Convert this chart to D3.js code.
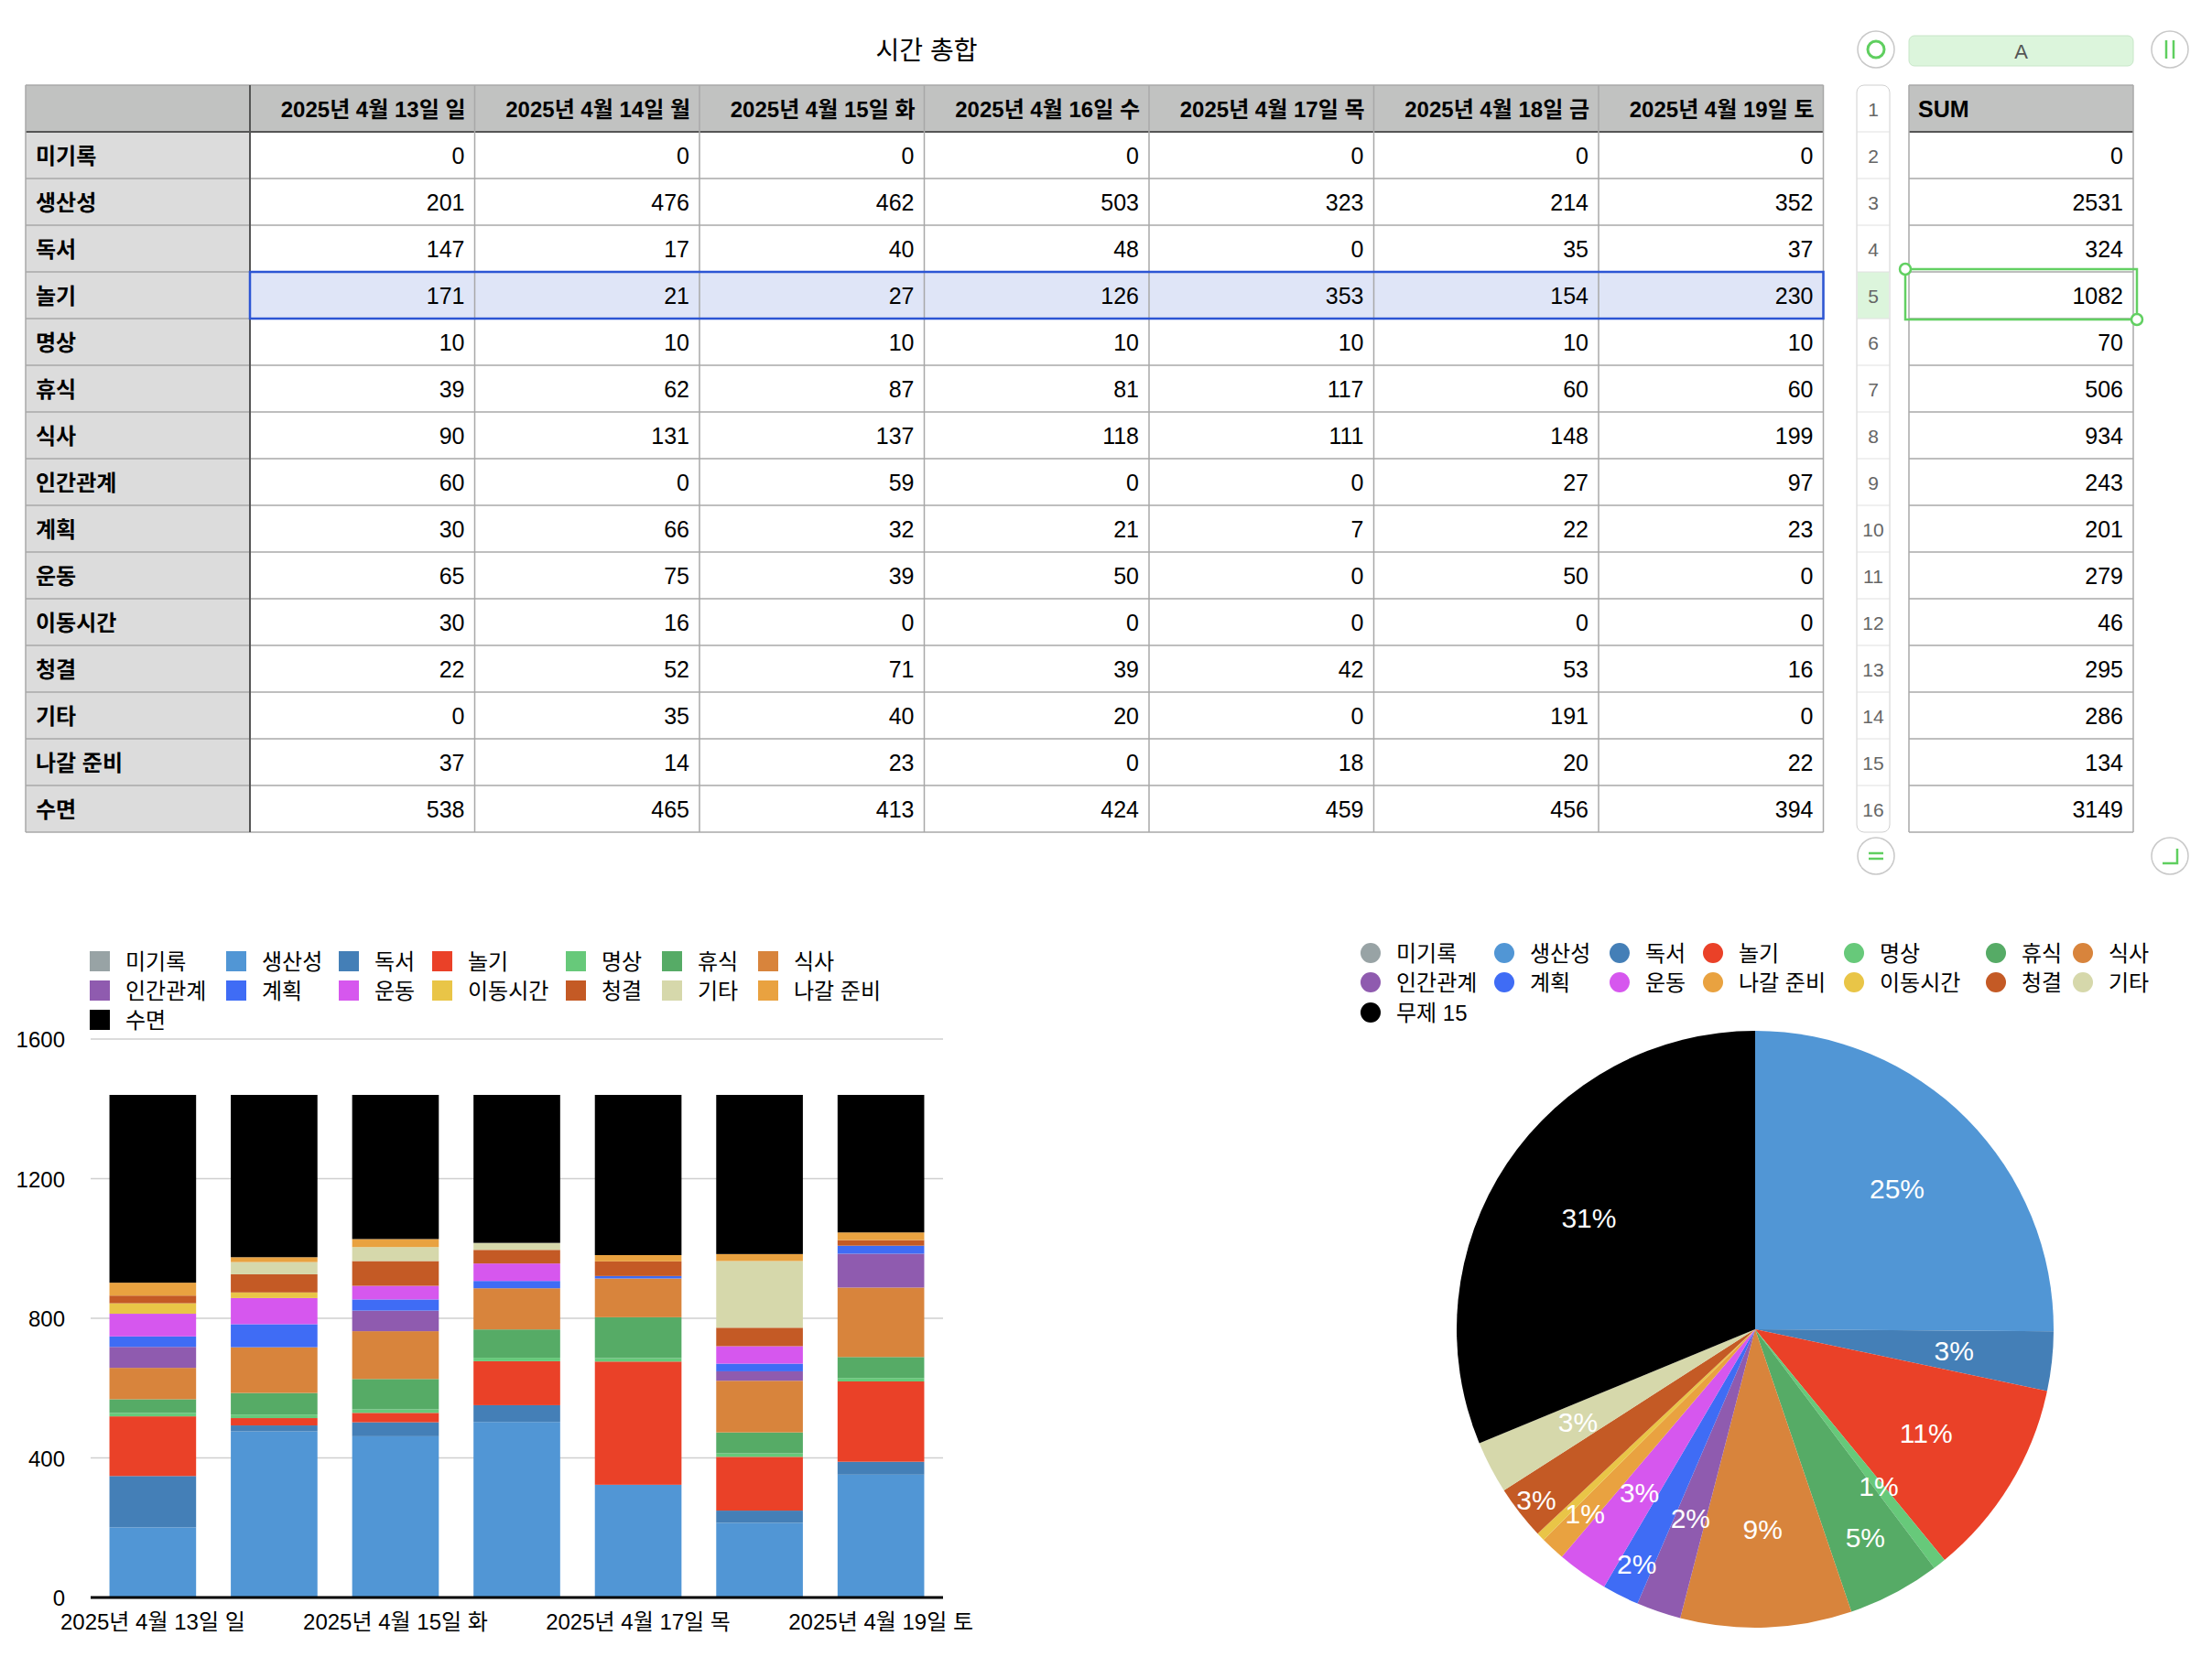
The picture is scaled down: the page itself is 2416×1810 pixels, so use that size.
<!DOCTYPE html>
<html><head><meta charset="utf-8">
<script src="https://cdn.jsdelivr.net/npm/d3@7"></script>
<style>
body{margin:0;background:#fff;}
text{font-family:"Liberation Sans","Noto Sans CJK KR",sans-serif;}
</style></head>
<body><svg id="c" width="2416" height="1810"></svg>
<script>
const dates = ["2025년 4월 13일 일","2025년 4월 14일 월","2025년 4월 15일 화","2025년 4월 16일 수","2025년 4월 17일 목","2025년 4월 18일 금","2025년 4월 19일 토"];
const categories = ["미기록","생산성","독서","놀기","명상","휴식","식사","인간관계","계획","운동","이동시간","청결","기타","나갈 준비","수면"];
const values = [
  [0,0,0,0,0,0,0],
  [201,476,462,503,323,214,352],
  [147,17,40,48,0,35,37],
  [171,21,27,126,353,154,230],
  [10,10,10,10,10,10,10],
  [39,62,87,81,117,60,60],
  [90,131,137,118,111,148,199],
  [60,0,59,0,0,27,97],
  [30,66,32,21,7,22,23],
  [65,75,39,50,0,50,0],
  [30,16,0,0,0,0,0],
  [22,52,71,39,42,53,16],
  [0,35,40,20,0,191,0],
  [37,14,23,0,18,20,22],
  [538,465,413,424,459,456,394]
];
const sums = [0,2531,324,1082,70,506,934,243,201,279,46,295,286,134,3149];
const colors = ["#98a3a5","#5196d5","#447fb7","#ea4128","#67c97a","#56ab66","#d8843c","#8f5baf","#3f6cf5","#d657ee","#e9c547","#c45a25","#d6d8ab","#e9a240","#000000"];
const pieOrder = [0,1,2,3,4,5,6,7,8,9,13,10,11,12,14];
const pieNames = categories.slice(0,14).concat(["무제 15"]);
// label distance from centre, as a share of the radius, per pie slice
const pieLabelR = [0.67,0.67,0.67,0.67,0.67,0.79,0.67,0.67,0.88,0.67,0.84,0.67,0.93,0.67,0.67];
const yTicks = [0,400,800,1200,1600];

const svg = d3.select("#c");

// ---- table ----
const tx = 28, ty = 93, rowH = 51, firstW = 245, colW = 245.5;
const tbl = svg.append("g");
tbl.append("text").attr("x",1012).attr("y",65).attr("text-anchor","middle")
  .attr("font-size",28).text("시간 총합");
tbl.append("rect").attr("x",tx).attr("y",ty).attr("width",firstW+colW*7).attr("height",rowH)
  .attr("fill","#c1c2c1");
tbl.append("rect").attr("x",tx).attr("y",ty+rowH).attr("width",firstW).attr("height",rowH*15)
  .attr("fill","#dcdcdc");
tbl.append("rect").attr("x",tx+firstW).attr("y",ty+rowH*4).attr("width",colW*7).attr("height",rowH)
  .attr("fill","#dfe5f7");
dates.forEach((d,i)=>{
  tbl.append("text").attr("x",tx+firstW+colW*(i+1)-10).attr("y",ty+rowH/2+9)
    .attr("text-anchor","end").attr("font-size",24).attr("font-weight","bold").text(d);
});
categories.forEach((c,r)=>{
  const y = ty+rowH*(r+1);
  tbl.append("text").attr("x",tx+11).attr("y",y+rowH/2+9).attr("font-size",24)
    .attr("font-weight","bold").text(c);
  values[r].forEach((v,i)=>{
    tbl.append("text").attr("x",tx+firstW+colW*(i+1)-11).attr("y",y+rowH/2+9)
      .attr("text-anchor","end").attr("font-size",25).text(v);
  });
});
for(let r=0;r<=16;r++){
  tbl.append("line").attr("x1",tx).attr("x2",tx+firstW+colW*7).attr("y1",ty+rowH*r).attr("y2",ty+rowH*r)
    .attr("stroke", r===1 ? "#555" : "#a8a8a8").attr("stroke-width", r===1?2:1.5);
}
for(let i=0;i<=8;i++){
  const x = i===0 ? tx : tx+firstW+colW*(i-1);
  tbl.append("line").attr("x1",x).attr("x2",x).attr("y1",ty).attr("y2",ty+rowH*16)
    .attr("stroke", i===1 ? "#555" : "#a8a8a8").attr("stroke-width", i===1?2:1.5);
}
tbl.append("rect").attr("x",tx+firstW).attr("y",ty+rowH*4).attr("width",colW*7).attr("height",rowH)
  .attr("fill","none").attr("stroke","#2c55d4").attr("stroke-width",2.5);

// ---- SUM table ----
const sx = 2085, sw = 245;
const rn = svg.append("g");
rn.append("rect").attr("x",2028).attr("y",ty).attr("width",36).attr("height",rowH*16).attr("rx",8)
  .attr("fill","#fff").attr("stroke","#d0d0d0");
rn.append("rect").attr("x",2029).attr("y",ty+rowH*4).attr("width",34).attr("height",rowH).attr("fill","#dcf5dc");
for(let r=0;r<16;r++){
  rn.append("text").attr("x",2046).attr("y",ty+rowH*r+rowH/2+8).attr("text-anchor","middle")
    .attr("font-size",21).attr("fill","#666").text(r+1);
  if(r>0) rn.append("line").attr("x1",2028).attr("x2",2064).attr("y1",ty+rowH*r).attr("y2",ty+rowH*r).attr("stroke","#e0e0e0");
}
rn.append("rect").attr("x",sx).attr("y",39).attr("width",sw).attr("height",33).attr("rx",6)
  .attr("fill","#dcf5dc").attr("stroke","#c8e6c8");
rn.append("text").attr("x",sx+sw/2).attr("y",64).attr("text-anchor","middle").attr("font-size",22).attr("fill","#555").text("A");
[[2049,54],[2370,54],[2049,935],[2370,935]].forEach(([cx,cy])=>{
  rn.append("circle").attr("cx",cx).attr("cy",cy).attr("r",20).attr("fill","#fff").attr("stroke","#c8c8c8").attr("stroke-width",1.5);
});
rn.append("circle").attr("cx",2049).attr("cy",54).attr("r",9).attr("fill","none").attr("stroke","#5fcf5f").attr("stroke-width",3);
rn.append("line").attr("x1",2366).attr("x2",2366).attr("y1",44).attr("y2",64).attr("stroke","#5fcf5f").attr("stroke-width",2.5);
rn.append("line").attr("x1",2374).attr("x2",2374).attr("y1",44).attr("y2",64).attr("stroke","#5fcf5f").attr("stroke-width",2.5);
rn.append("line").attr("x1",2041).attr("x2",2057).attr("y1",932).attr("y2",932).attr("stroke","#5fcf5f").attr("stroke-width",2.5);
rn.append("line").attr("x1",2041).attr("x2",2057).attr("y1",938).attr("y2",938).attr("stroke","#5fcf5f").attr("stroke-width",2.5);
rn.append("path").attr("d","M2378,927 V943 H2362").attr("fill","none").attr("stroke","#5fcf5f").attr("stroke-width",2.5);

rn.append("rect").attr("x",sx).attr("y",ty).attr("width",sw).attr("height",rowH).attr("fill","#c1c2c1");
rn.append("text").attr("x",sx+10).attr("y",ty+rowH/2+9).attr("font-size",25).attr("font-weight","bold").text("SUM");
sums.forEach((v,r)=>{
  const y = ty+rowH*(r+1);
  rn.append("text").attr("x",sx+sw-11).attr("y",y+rowH/2+9).attr("text-anchor","end").attr("font-size",25).text(v);
});
for(let r=0;r<=16;r++){
  rn.append("line").attr("x1",sx).attr("x2",sx+sw).attr("y1",ty+rowH*r).attr("y2",ty+rowH*r)
    .attr("stroke", r===1 ? "#555" : "#a8a8a8").attr("stroke-width", r===1?2:1.5);
}
[sx,sx+sw].forEach(x=>rn.append("line").attr("x1",x).attr("x2",x).attr("y1",ty).attr("y2",ty+rowH*16).attr("stroke","#a8a8a8").attr("stroke-width",1.5));
rn.append("rect").attr("x",sx-4).attr("y",ty+rowH*4-3).attr("width",sw+8).attr("height",rowH+4)
  .attr("fill","none").attr("stroke","#62d062").attr("stroke-width",2.5);
rn.append("circle").attr("cx",sx-4).attr("cy",ty+rowH*4-3).attr("r",6).attr("fill","#fff").attr("stroke","#62d062").attr("stroke-width",2.5);
rn.append("circle").attr("cx",sx+sw+4).attr("cy",ty+rowH*5+1).attr("r",6).attr("fill","#fff").attr("stroke","#62d062").attr("stroke-width",2.5);

// ---- stacked bar chart ----
const x = d3.scaleBand().domain(dates).range([99,1030]).paddingInner(0.286).paddingOuter(0.155);
const y = d3.scaleLinear().domain([0,1600]).range([1745,1135]);
const bar = svg.append("g");
bar.selectAll("line.grid").data(yTicks.slice(1)).join("line").attr("class","grid")
  .attr("x1",99).attr("x2",1030).attr("y1",d=>y(d)).attr("y2",d=>y(d)).attr("stroke","#cfcfcf").attr("stroke-width",1.5);
bar.selectAll("text.yt").data(yTicks).join("text").attr("class","yt")
  .attr("x",71).attr("y",d=>y(d)+9).attr("text-anchor","end").attr("font-size",24).text(d=>d);
const rows = dates.map((d,i)=>{ const o={date:d}; categories.forEach((c,r)=>o[c]=values[r][i]); return o; });
const stack = d3.stack().keys(categories)(rows);
bar.selectAll("g.s").data(stack).join("g").attr("class","s").attr("fill",(d,i)=>colors[i])
  .selectAll("rect").data(d=>d).join("rect")
  .attr("x",d=>x(d.data.date)).attr("width",x.bandwidth())
  .attr("y",d=>y(d[1])).attr("height",d=>y(d[0])-y(d[1]));
bar.append("line").attr("x1",99).attr("x2",1030).attr("y1",y(0)).attr("y2",y(0)).attr("stroke","#000").attr("stroke-width",3);
bar.selectAll("text.xt").data(dates.filter((d,i)=>i%2===0)).join("text").attr("class","xt")
  .attr("x",d=>x(d)+x.bandwidth()/2).attr("y",1780).attr("text-anchor","middle").attr("font-size",24).text(d=>d);
const legX = [98,247,370,472,618,723,828], legY = [1050,1082,1114];
categories.forEach((c,i)=>{
  const lx = legX[i%7], ly = legY[Math.floor(i/7)];
  bar.append("rect").attr("x",lx).attr("y",ly-11).attr("width",22).attr("height",22).attr("fill",colors[i]);
  bar.append("text").attr("x",lx+39).attr("y",ly+9).attr("font-size",24).text(c);
});

// ---- pie ----
const cx = 1917, cy = 1452, R = 326;
const pieData = pieOrder.map(i=>({name:pieNames[i], value:sums[i], color:colors[i]}));
const total = d3.sum(pieData,d=>d.value);
const arcs = d3.pie().sort(null).value(d=>d.value)(pieData);
const arc = d3.arc().innerRadius(0).outerRadius(R);
const pie = svg.append("g").attr("transform",`translate(${cx},${cy})`);
pie.selectAll("path").data(arcs).join("path").attr("d",arc).attr("fill",d=>d.data.color);
pie.selectAll("text").data(arcs.filter(d=>Math.round(d.data.value/total*100)>=1)).join("text")
  .attr("transform",d=>{
    const k = pieLabelR[d.index]*R;
    return `translate(${d3.arc().innerRadius(k).outerRadius(k).centroid(d)})`;
  })
  .attr("text-anchor","middle").attr("dy","0.35em")
  .attr("font-size",30).attr("font-weight","500").attr("fill","#fff")
  .text(d=>Math.round(d.data.value/total*100)+"%");
const pLegX = [1497,1643,1769,1871,2025,2180,2275], pLegY = [1041,1073,1106];
pieData.forEach((d,i)=>{
  const lx = pLegX[i%7], ly = pLegY[Math.floor(i/7)];
  svg.append("circle").attr("cx",lx).attr("cy",ly).attr("r",11).attr("fill",d.color);
  svg.append("text").attr("x",lx+28).attr("y",ly+9).attr("font-size",24).text(d.name);
});
</script></body></html>
